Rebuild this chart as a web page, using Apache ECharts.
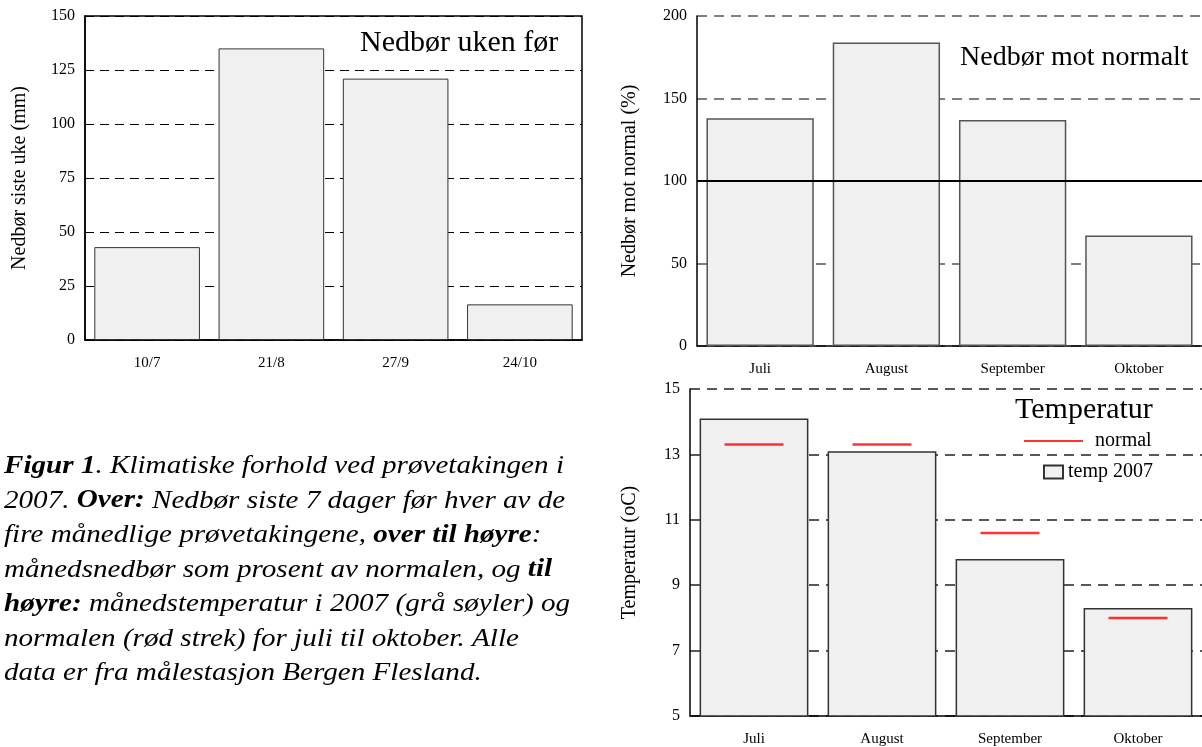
<!DOCTYPE html>
<html>
<head>
<meta charset="utf-8">
<script src="https://cdn.jsdelivr.net/npm/echarts@6/dist/echarts.min.js"></script>
<style>
  html, body { margin: 0; padding: 0; background: #fff; }
  #chart { width: 1202px; height: 747px; }
</style>
</head>
<body>
<div id="chart"></div>
<script>
// data
const weekDates = ['10/7', '21/8', '27/9', '24/10']
const weekRain = [43, 135, 121, 16.5]          // mm, siste 7 dager
const months = ['Juli', 'August', 'September', 'Oktober']
const rainPct = [138, 184, 137, 67]            // % av normal
const temp2007 = [14.1, 13.1, 9.8, 8.3]        // oC
const tempNormal = [13.3, 13.3, 10.6, 8.0]     // oC normal

const serif = 'Liberation Serif, Times New Roman, serif'

const caption =
  '{b|Figur 1}. Klimatiske forhold ved prøvetakingen i\n' +
  '2007. {b|Over:} Nedbør siste 7 dager før hver av de\n' +
  'fire månedlige prøvetakingene, {b|over til høyre}:\n' +
  'månedsnedbør som prosent av normalen, og {b|til}\n' +
  '{b|høyre:} månedstemperatur i 2007 (grå søyler) og\n' +
  'normalen (rød strek) for juli til oktober. Alle\n' +
  'data er fra målestasjon Bergen Flesland.'

const chart = echarts.init(document.getElementById('chart'))

// shared axis styles
const catAxis = (gridIndex, data, tickColor, margin) => ({
  type: 'category',
  gridIndex,
  data,
  axisLine: {lineStyle: {color: '#000', width: 1.5}},
  axisTick: {alignWithLabel: true, length: 6, lineStyle: {color: tickColor, width: 1.5}},
  axisLabel: {color: '#000', fontFamily: serif, fontSize: 15, margin}
})

const valAxis = (gridIndex, min, max, interval, name, nameGap, gridColor, gridWidth, dash) => ({
  type: 'value',
  gridIndex,
  min,
  max,
  interval,
  name,
  nameLocation: 'middle',
  nameGap,
  nameTextStyle: {color: '#000', fontFamily: serif, fontSize: 20},
  axisLine: {show: true, lineStyle: {color: '#000', width: 1.5}},
  axisTick: {show: false},
  axisLabel: {color: '#000', fontFamily: serif, fontSize: 16, margin: 10},
  splitLine: {show: true, lineStyle: {color: gridColor, width: gridWidth, type: dash}}
})

const option = {
  animation: false,
  textStyle: {fontFamily: serif},
  title: [
    {text: 'Nedbør uken før', left: 360, top: 28, padding: 0,
      textStyle: {fontFamily: serif, fontSize: 30, fontWeight: 'normal', color: '#000'}},
    {text: 'Nedbør mot normalt', left: 960, top: 44, padding: 0,
      textStyle: {fontFamily: serif, fontSize: 28, fontWeight: 'normal', color: '#000'}},
    {text: 'Temperatur', left: 1015, top: 395, padding: 0,
      textStyle: {fontFamily: serif, fontSize: 30, fontWeight: 'normal', color: '#000'}}
  ],
  legend: [
    {
      data: [{name: 'normal', icon: 'rect'}],
      left: 1024, top: 431, padding: 0,
      itemWidth: 59, itemHeight: 2,
      textStyle: {fontFamily: serif, fontSize: 20, color: '#000', padding: [0, 0, 0, 7]}
    },
    {
      data: [{name: 'temp 2007', icon: 'rect'}],
      left: 1043, top: 462, padding: 0,
      itemWidth: 19, itemHeight: 13,
      textStyle: {fontFamily: serif, fontSize: 20, color: '#000'}
    }
  ],
  grid: [
    {left: 85, top: 16, width: 497, height: 324, show: true, borderColor: '#000', borderWidth: 1.5, backgroundColor: 'transparent'},
    {left: 697, top: 16, width: 508, height: 330},
    {left: 690, top: 389, width: 518, height: 329}
  ],
  xAxis: [
    catAxis(0, weekDates, '#000', 16),
    catAxis(1, months, '#555', 16),
    catAxis(2, months, '#000', 16)
  ],
  yAxis: [
    valAxis(0, 0, 150, 25, 'Nedbør siste uke (mm)', 55, '#000', 1, [9, 6]),
    valAxis(1, 0, 200, 50, 'Nedbør mot normal (%)', 57, '#555', 1.5, [10, 7]),
    valAxis(2, 5, 15, 2, 'Temperatur (oC)', 50, '#222', 1.5, [10, 7])
  ],
  graphic: [
    {
      type: 'text',
      x: 4,
      y: 449,
      scaleX: 1.12,
      style: {
        text: caption,
        fontFamily: serif,
        fontStyle: 'italic',
        fontSize: 26,
        lineHeight: 34.5,
        verticalAlign: 'top',
        fill: '#000',
        rich: {
          b: {fontFamily: serif, fontStyle: 'italic', fontWeight: 'bold', fontSize: 26, lineHeight: 34.5}
        }
      }
    }
  ],
  series: [
    {
      name: 'week',
      type: 'bar',
      xAxisIndex: 0,
      yAxisIndex: 0,
      data: weekRain,
      barCategoryGap: '15%',
      itemStyle: {color: '#f0f0f0', borderColor: '#333', borderWidth: 1}
    },
    {
      name: 'pct',
      type: 'bar',
      xAxisIndex: 1,
      yAxisIndex: 1,
      data: rainPct,
      barCategoryGap: '15%',
      itemStyle: {color: '#f0f0f0', borderColor: '#555', borderWidth: 1.5},
      markLine: {
        silent: true,
        symbol: 'none',
        label: {show: false},
        lineStyle: {color: '#000', width: 2, type: 'solid'},
        data: [{yAxis: 100}]
      }
    },
    {
      name: 'temp 2007',
      type: 'bar',
      xAxisIndex: 2,
      yAxisIndex: 2,
      data: temp2007,
      barCategoryGap: '15%',
      itemStyle: {color: '#f0f0f0', borderColor: '#333', borderWidth: 1.5}
    },
    {
      name: 'normal',
      type: 'scatter',
      xAxisIndex: 2,
      yAxisIndex: 2,
      data: tempNormal,
      symbol: 'rect',
      symbolSize: [59, 2.5],
      itemStyle: {color: '#ff0000'},
      z: 5
    }
  ]
}

chart.setOption(option)
</script>
</body>
</html>
